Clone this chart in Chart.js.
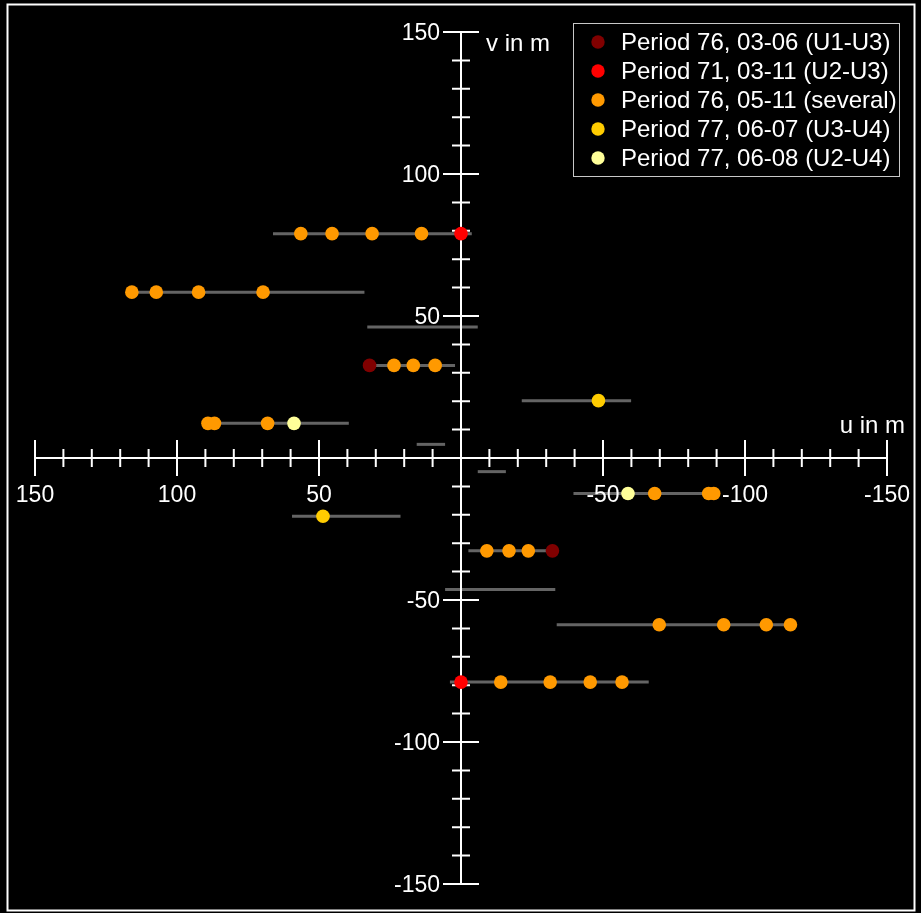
<!DOCTYPE html>
<html>
<head>
<meta charset="utf-8">
<title>uv coverage</title>
<script src="https://cdn.jsdelivr.net/npm/chart.js@4.4.0/dist/chart.umd.min.js"></script>
<style>
  html, body { margin: 0; padding: 0; background: #000; }
  #uvChart { display: block; }
</style>
</head>
<body>
<canvas id="uvChart" width="921" height="913"></canvas>
<script>
// series names and colours
var seriesLabels = [
  'Period 76, 03-06 (U1-U3)',
  'Period 71, 03-11 (U2-U3)',
  'Period 76, 05-11 (several)',
  'Period 77, 06-07 (U3-U4)',
  'Period 77, 06-08 (U2-U4)'
];
var seriesColors = ['#800000', '#ff0000', '#ff9900', '#ffcc00', '#ffff99'];

// uv points (u, v in m), one pair of arrays per series
var p7603U = [32.2, -32.2];
var p7603V = [32.6, -32.7];

var p7111U = [0, 0];
var p7111V = [79.0, -78.9];

var p7605U = [56.4, 45.4, 31.3, 13.9, -14.0, -31.4, -45.5, -56.7,
              115.9, 107.3, 92.4, 69.7, -69.8, -92.5, -107.5, -116.0,
              23.6, 16.8, 9.1, -9.1, -16.9, -23.7,
              89.1, 86.8, 68.1, -68.2, -87.2, -89.0];
var p7605V = [79.0, 79.0, 79.0, 79.0, -78.9, -78.9, -78.9, -78.9,
              58.4, 58.4, 58.4, 58.4, -58.7, -58.7, -58.7, -58.7,
              32.6, 32.6, 32.6, -32.7, -32.7, -32.7,
              12.2, 12.2, 12.2, -12.5, -12.5, -12.5];

var p7706U = [-48.4, 48.6];
var p7706V = [20.2, -20.5];

var p7708U = [58.8, -58.8];
var p7708V = [12.2, -12.5];

// grey tracks: constant v, from u start to u end
var trackV     = [79.0, -78.9, 58.4, -58.7, 46.1, -46.3, 32.6, -32.7, 12.2, -12.5, 4.8, -4.8, 20.2, -20.5];
var trackUFrom = [66.2, 3.9, 115.9, -33.7, 33.0, 5.6, 32.1, -2.6, 89.1, -39.6, 15.6, -5.9, -21.4, 59.5];
var trackUTo   = [-3.8, -66.1, 34.0, -116.0, -5.9, -33.2, 2.1, -32.2, 39.5, -89.0, 5.6, -15.8, -59.9, 21.3];

// axis ticks
var tickLabels = [150, 100, 50, -50, -100, -150];
var axisMin = -150, axisMax = 150, minorStep = 10;

function pts(us, vs) {
  return us.map(function (u, i) { return { x: u, y: vs[i] }; });
}

var pointSeries = [
  pts(p7603U, p7603V),
  pts(p7111U, p7111V),
  pts(p7605U, p7605V),
  pts(p7706U, p7706V),
  pts(p7708U, p7708V)
];

var datasets = pointSeries.map(function (d, i) {
  return {
    kind: 'point',
    label: seriesLabels[i],
    data: d,
    showLine: false,
    pointRadius: 6.8,
    pointHoverRadius: 6.8,
    pointBorderWidth: 0,
    backgroundColor: seriesColors[i],
    borderColor: seriesColors[i],
    order: 1
  };
});

trackV.forEach(function (v, i) {
  datasets.push({
    kind: 'track',
    label: 'track',
    data: [{ x: trackUFrom[i], y: v }, { x: trackUTo[i], y: v }],
    showLine: true,
    borderColor: '#646464',
    borderWidth: 3,
    pointRadius: 0,
    pointHoverRadius: 0,
    order: 2
  });
});

var FONT = '"Liberation Sans", Arial, sans-serif';

var uvAxes = {
  id: 'uvAxes',
  beforeDraw: function (chart) {
    var ctx = chart.ctx;
    ctx.save();
    ctx.fillStyle = '#000';
    ctx.fillRect(0, 0, chart.width, chart.height);
    ctx.strokeStyle = '#ffffff';
    ctx.lineWidth = 2;
    ctx.strokeRect(7.5, 4.5, 907, 906);
    ctx.restore();
  },
  beforeDatasetsDraw: function (chart) { chart.$axesDone = false; },
  beforeDatasetDraw: function (chart, args) {
    if (chart.$axesDone || chart.data.datasets[args.index].kind !== 'point') return;
    chart.$axesDone = true;
    var ctx = chart.ctx, xs = chart.scales.x, ys = chart.scales.y;
    var x0 = xs.getPixelForValue(0), y0 = ys.getPixelForValue(0);
    ctx.save();
    ctx.strokeStyle = '#ffffff';
    ctx.lineWidth = 2;
    ctx.beginPath();
    ctx.moveTo(xs.getPixelForValue(axisMax), y0);
    ctx.lineTo(xs.getPixelForValue(axisMin), y0);
    ctx.moveTo(x0, ys.getPixelForValue(axisMax));
    ctx.lineTo(x0, ys.getPixelForValue(axisMin));
    for (var t = axisMin; t <= axisMax; t += minorStep) {
      if (t === 0) continue;
      var len = (t % 50 === 0) ? 18 : 9;
      var px = xs.getPixelForValue(t), py = ys.getPixelForValue(t);
      ctx.moveTo(px, y0 - len); ctx.lineTo(px, y0 + len);
      ctx.moveTo(x0 - len, py); ctx.lineTo(x0 + len, py);
    }
    ctx.stroke();
    ctx.restore();
  },
  afterDraw: function (chart) {
    var ctx = chart.ctx, xs = chart.scales.x, ys = chart.scales.y;
    var x0 = xs.getPixelForValue(0), y0 = ys.getPixelForValue(0);
    ctx.save();
    ctx.fillStyle = '#ffffff';
    ctx.font = '23px ' + FONT;
    ctx.textBaseline = 'middle';
    ctx.textAlign = 'center';
    tickLabels.forEach(function (t) {
      ctx.fillText(String(t), xs.getPixelForValue(t), y0 + 38);
    });
    ctx.textAlign = 'right';
    tickLabels.forEach(function (t) {
      ctx.fillText(String(t), x0 - 21, ys.getPixelForValue(t) + 2);
    });
    // axis titles
    ctx.font = '24px ' + FONT;
    ctx.textBaseline = 'alphabetic';
    ctx.textAlign = 'right';
    ctx.fillText('u in m', 905, 433);
    ctx.textAlign = 'left';
    ctx.fillText('v in m', 486, 51);

    // legend
    var bx = 573.5, by = 23.5, bw = 326, bh = 153;
    ctx.fillStyle = '#000';
    ctx.fillRect(bx, by, bw, bh);
    ctx.strokeStyle = '#c8c8c8';
    ctx.lineWidth = 1;
    ctx.strokeRect(bx, by, bw, bh);
    ctx.font = '24px ' + FONT;
    ctx.textBaseline = 'middle';
    ctx.textAlign = 'left';
    chart.data.datasets.forEach(function (ds, i) {
      if (ds.kind !== 'point') return;
      var ry = 42 + i * 29;
      ctx.fillStyle = ds.backgroundColor;
      ctx.beginPath();
      ctx.arc(598, ry, 6.7, 0, Math.PI * 2);
      ctx.fill();
      ctx.fillStyle = '#ffffff';
      ctx.fillText(ds.label, 621, ry + 1);
    });
    ctx.restore();
  }
};

var ctx = document.getElementById('uvChart').getContext('2d');
var uvChart = new Chart(ctx, {
  type: 'scatter',
  data: { datasets: datasets },
  options: {
    responsive: false,
    animation: false,
    devicePixelRatio: 1,
    layout: { padding: { left: 35, right: 34, top: 32, bottom: 29 } },
    scales: {
      x: { type: 'linear', min: axisMin, max: axisMax, reverse: true, display: false },
      y: { type: 'linear', min: axisMin, max: axisMax, display: false }
    },
    plugins: {
      legend: { display: false },
      tooltip: { enabled: false }
    }
  },
  plugins: [uvAxes]
});
</script>
</body>
</html>
